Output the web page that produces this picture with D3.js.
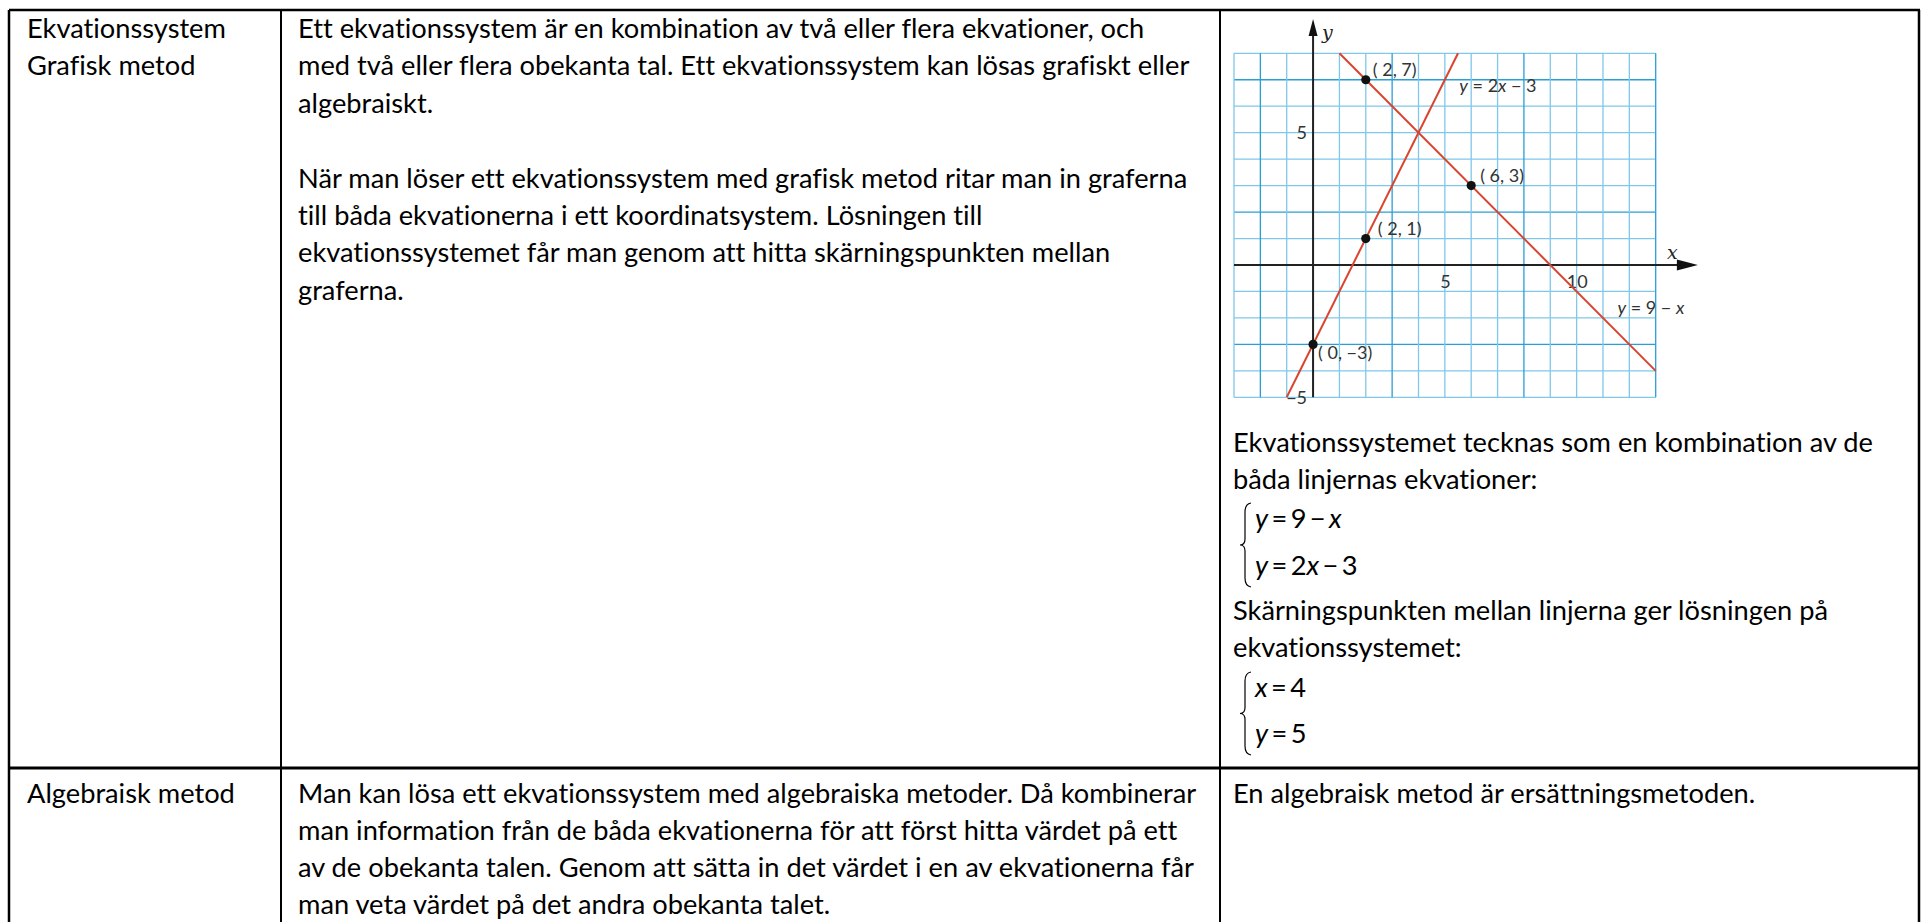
<!DOCTYPE html>
<html><head><meta charset="utf-8">
<script src="https://cdn.jsdelivr.net/npm/d3@7"></script>
<style>
html,body{margin:0;padding:0;background:#fff;overflow:hidden}
svg{display:block}
text{font-variant-ligatures:none;font-feature-settings:"liga" 0,"dlig" 0}
</style></head><body>
<svg id="c" width="1923" height="922"></svg>
<script>
// ---------- data ----------
const rowLabels1 = ["Ekvationssystem", "Grafisk metod"];
const rowLabels2 = ["Algebraisk metod"];
const descLines1 = [
  "Ett ekvationssystem är en kombination av två eller flera ekvationer, och",
  "med två eller flera obekanta tal. Ett ekvationssystem kan lösas grafiskt eller",
  "algebraiskt.",
  "",
  "När man löser ett ekvationssystem med grafisk metod ritar man in graferna",
  "till båda ekvationerna i ett koordinatsystem. Lösningen till",
  "ekvationssystemet får man genom att hitta skärningspunkten mellan",
  "graferna."
];
const descLines2 = [
  "Man kan lösa ett ekvationssystem med algebraiska metoder. Då kombinerar",
  "man information från de båda ekvationerna för att först hitta värdet på ett",
  "av de obekanta talen. Genom att sätta in det värdet i en av ekvationerna får",
  "man veta värdet på det andra obekanta talet."
];
const noteLinesA = ["Ekvationssystemet tecknas som en kombination av de", "båda linjernas ekvationer:"];
const systemA = ["y=9−x", "y=2x−3"];
const noteLinesB = ["Skärningspunkten mellan linjerna ger lösningen på", "ekvationssystemet:"];
const systemB = ["x=4", "y=5"];
const noteLines2 = ["En algebraisk metod är ersättningsmetoden."];

// chart data
const xDomain = [-3, 13];
const yDomain = [-5, 8];
const xTickValues = [5, 10];
const yTickValues = [5, -5];
const lineNineMinusX = [[1, 8], [13, -4]];       // y = 9 − x
const lineTwoXMinusThree = [[-1, -5], [5.5, 8]]; // y = 2x − 3
const points = [[2, 7], [6, 3], [2, 1], [0, -3]];
const pointLabels = ["( 2, 7)", "( 6, 3)", "( 2, 1)", "( 0, −3)"];
const lineLabels = [
  {parts: [["y", true], [" = 2", false], ["x", true], [" − 3", false]], at: [5.55, 6.55]},
  {parts: [["y", true], [" = 9 − ", false], ["x", true]], at: [11.55, -1.85]}
];

// ---------- layout ----------
const svg = d3.select("#c");
const FONT = "Lato, 'Open Sans', sans-serif";
const colX = [9, 281, 1220, 1919];
const rowY = [10, 768];

function measure(str, size, font) {
  const t = svg.append("text").attr("font-family", font).attr("font-size", size).text(str);
  const w = t.node().getComputedTextLength(); t.remove(); return w;
}
const refs = [[descLines1[0], 846], [descLines1[4], 890], [noteLinesA[0], 640]];
const ratio = d3.mean(refs, d => d[1] / measure(d[0], 100, FONT));
const FS = 100 * ratio;
const LH = 37.4;

function lines(arr, x, y0, lh) {
  const g = svg.append("g").attr("font-family", FONT).attr("font-size", FS).attr("fill", "#000");
  g.selectAll("text").data(arr).join("text")
    .attr("x", x).attr("y", (d, i) => y0 + i * lh).text(d => d);
}

lines(rowLabels1, 27, 38, LH);
lines(descLines1, 298, 38, LH);
lines(rowLabels2, 27, 803, LH);
lines(descLines2, 298, 803, 37.1);
lines(noteLinesA, 1233, 452, LH);
lines(noteLinesB, 1233, 620, LH);
lines(noteLines2, 1233, 803, LH);

// equation systems with brace
function eqSystem(eqs, x, ys) {
  const g = svg.append("g").attr("font-family", FONT).attr("font-size", FS).attr("fill", "#000");
  eqs.forEach((eq, i) => {
    const t = g.append("text").attr("x", x + 16).attr("y", ys[i]);
    eq.split("").forEach(ch => {
      const isVar = /[a-z]/.test(ch);
      const sp = (ch === "=" || ch === "−") ? "\u2009" : "";
      t.append("tspan").attr("font-style", isVar ? "italic" : "normal").text(sp + ch + sp);
    });
  });
  const top = ys[0] - 25, bot = ys[ys.length - 1] + 12, mid = (top + bot) / 2;
  const bx = x + 6;
  const p = d3.path();
  p.moveTo(bx + 6, top);
  p.quadraticCurveTo(bx, top + 1, bx, top + 9);
  p.lineTo(bx, mid - 6);
  p.quadraticCurveTo(bx, mid, bx - 5, mid);
  p.quadraticCurveTo(bx, mid, bx, mid + 6);
  p.lineTo(bx, bot - 9);
  p.quadraticCurveTo(bx, bot - 1, bx + 6, bot);
  svg.append("path").attr("d", p.toString()).attr("fill", "none").attr("stroke", "#000").attr("stroke-width", 1.2);
}
eqSystem(systemA, 1239, [528, 575]);
eqSystem(systemB, 1239, [697, 743]);

// ---------- chart ----------
const x = d3.scaleLinear().domain(xDomain).range([1234, 1655.7]);
const y = d3.scaleLinear().domain(yDomain).range([397.3, 53.3]);
const chart = svg.append("g");
const darkX = v => ((v + 2) % 5 + 5) % 5 === 0;
const darkY = v => ((v - 2) % 5 + 5) % 5 === 0;
const gridXs = d3.range(xDomain[0], xDomain[1] + 1);
const gridYs = d3.range(yDomain[0], yDomain[1] + 1);
chart.append("g").selectAll("line").data(gridYs).join("line")
  .attr("x1", x(xDomain[0])).attr("x2", x(xDomain[1]))
  .attr("y1", d => y(d)).attr("y2", d => y(d))
  .attr("stroke", d => darkY(d) ? "#2a9ed6" : "#7fc8ea").attr("stroke-width", 1.3);
chart.append("g").selectAll("line").data(gridXs).join("line")
  .attr("y1", y(yDomain[0])).attr("y2", y(yDomain[1]))
  .attr("x1", d => x(d)).attr("x2", d => x(d))
  .attr("stroke", d => darkX(d) ? "#2a9ed6" : "#7fc8ea").attr("stroke-width", 1.3);

// axes lines with arrows
const xEnd = 14.6, yEnd = 9.3;
chart.append("line").attr("x1", x(xDomain[0])).attr("x2", x(xEnd) - 10)
  .attr("y1", y(0)).attr("y2", y(0)).attr("stroke", "#222").attr("stroke-width", 2);
chart.append("path").attr("d", `M${x(xEnd)},${y(0)} L${x(xEnd) - 21},${y(0) - 5.5} L${x(xEnd) - 21},${y(0) + 5.5} Z`).attr("fill", "#111");
chart.append("line").attr("y1", y(yDomain[0])).attr("y2", y(yEnd) + 10)
  .attr("x1", x(0)).attr("x2", x(0)).attr("stroke", "#222").attr("stroke-width", 2);
chart.append("path").attr("d", `M${x(0)},${y(yEnd)} L${x(0) - 4.5},${y(yEnd) + 17} L${x(0) + 4.5},${y(yEnd) + 17} Z`).attr("fill", "#111");

const LFONT = "Lato, sans-serif";
const LFS = 18;
const ax = chart.append("g").attr("transform", `translate(0,${y(0)})`)
  .call(d3.axisBottom(x).tickValues(xTickValues).tickSize(0).tickPadding(10));
const ay = chart.append("g").attr("transform", `translate(${x(0)},0)`)
  .call(d3.axisLeft(y).tickValues(yTickValues).tickSize(0).tickPadding(6));
[ax, ay].forEach(a => {
  a.select(".domain").remove();
  a.selectAll("text").attr("font-family", LFONT).attr("font-size", LFS).attr("fill", "#333");
});

// axis names
chart.append("text").attr("x", x(0) + 9).attr("y", 39).attr("font-family", "'DejaVu Serif', serif")
  .attr("font-style", "italic").attr("font-size", 19).attr("fill", "#222").text("y");
chart.append("text").attr("x", 1667).attr("y", 259).attr("font-family", "'DejaVu Serif', serif")
  .attr("font-style", "italic").attr("font-size", 19).attr("fill", "#222").text("x");

// red lines
const lineGen = d3.line().x(d => x(d[0])).y(d => y(d[1]));
chart.selectAll("path.fn").data([lineNineMinusX, lineTwoXMinusThree]).join("path")
  .attr("class", "fn").attr("d", lineGen).attr("fill", "none")
  .attr("stroke", "#d9442f").attr("stroke-width", 2);

// points
chart.selectAll("circle").data(points).join("circle")
  .attr("cx", d => x(d[0])).attr("cy", d => y(d[1])).attr("r", 4.6).attr("fill", "#111");
const labOff = [[7, -4], [9, -4], [12, -4], [5, 15]];
chart.append("g").selectAll("text").data(points).join("text")
  .attr("x", (d, i) => x(d[0]) + labOff[i][0]).attr("y", (d, i) => y(d[1]) + labOff[i][1])
  .attr("font-family", LFONT).attr("font-size", LFS).attr("fill", "#333")
  .text((d, i) => pointLabels[i]);

// line labels
lineLabels.forEach(L => {
  const t = chart.append("text").attr("x", x(L.at[0])).attr("y", y(L.at[1]))
    .attr("font-family", LFONT).attr("font-size", LFS).attr("fill", "#333");
  L.parts.forEach(p => t.append("tspan").attr("font-style", p[1] ? "italic" : "normal").text(p[0]));
});

// ---------- table borders ----------
const B = svg.append("g").attr("stroke", "#000");
B.append("line").attr("x1", colX[0]).attr("x2", colX[3] + 1).attr("y1", rowY[0]).attr("y2", rowY[0]).attr("stroke-width", 2.5);
B.append("line").attr("x1", colX[0]).attr("x2", colX[3] + 1).attr("y1", rowY[1]).attr("y2", rowY[1]).attr("stroke-width", 3);
colX.forEach((cx, i) => B.append("line").attr("x1", cx).attr("x2", cx).attr("y1", rowY[0]).attr("y2", 925)
  .attr("stroke-width", (i === 0 || i === 3) ? 2.5 : 2));
</script>
</body></html>
